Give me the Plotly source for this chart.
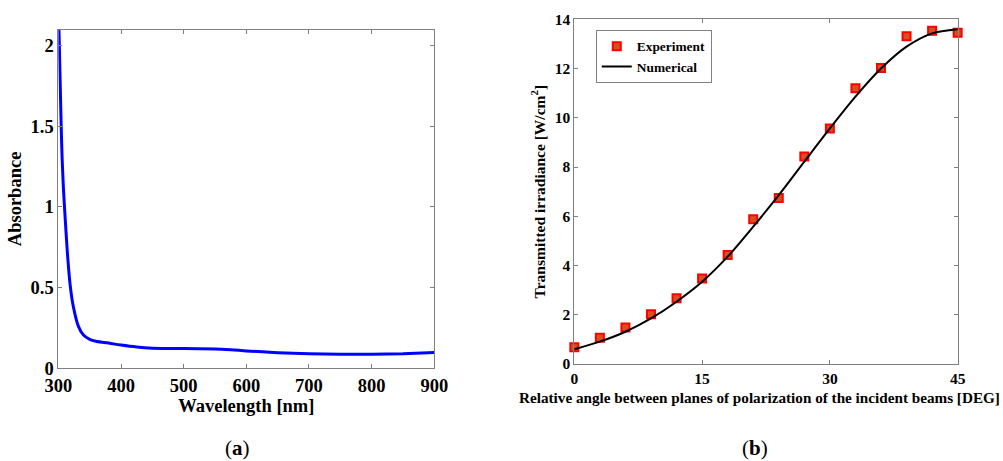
import plotly.graph_objects as go

# Panel (a): absorbance spectrum
wavelength = [300, 301, 303, 304.5, 306, 308, 311, 314.5, 319, 324, 332, 340, 350, 360,
              370, 378, 390, 400, 425, 450, 500, 550, 575, 600, 650, 700, 750, 800, 850, 900]
absorbance = [2.3, 2.09, 1.75, 1.5, 1.3, 1.12, 0.92, 0.71, 0.51, 0.38, 0.26, 0.206, 0.18, 0.168,
              0.162, 0.158, 0.15, 0.144, 0.132, 0.125, 0.123, 0.12, 0.115, 0.108, 0.097, 0.09,
              0.087, 0.087, 0.09, 0.098]

# Panel (b): transmitted irradiance vs angle
exp_angle = [0, 3, 6, 9, 12, 15, 18, 21, 24, 27, 30, 33, 36, 39, 42, 45]
exp_irr = [0.68, 1.07, 1.48, 2.02, 2.67, 3.47, 4.43, 5.88, 6.74, 8.43, 9.57, 11.2, 12.02,
           13.31, 13.54, 13.46]
num_angle = [0, 3, 6, 9, 12, 15, 18, 21, 24, 27, 30, 33, 36, 39, 42, 45]
num_irr = [0.6, 0.91, 1.31, 1.85, 2.53, 3.34, 4.36, 5.58, 6.86, 8.22, 9.57, 10.86, 12.0,
           12.89, 13.43, 13.6]

SERIF = "Liberation Serif"
AX = "#808080"

fig = go.Figure()

fig.add_trace(go.Scatter(
    x=wavelength, y=absorbance, mode="lines",
    line=dict(color="#0000ff", width=3, shape="spline", smoothing=0.5),
    xaxis="x", yaxis="y", showlegend=False))

fig.add_trace(go.Scatter(
    x=exp_angle, y=exp_irr, mode="markers", name="Experiment",
    marker=dict(symbol="square", size=8, color="#d4501c", line=dict(color="#ff0000", width=2)),
    xaxis="x2", yaxis="y2", cliponaxis=False))

fig.add_trace(go.Scatter(
    x=num_angle, y=num_irr, mode="lines", name="Numerical",
    line=dict(color="#000000", width=2, shape="spline", smoothing=0.8),
    xaxis="x2", yaxis="y2"))

common = dict(showgrid=False, zeroline=False, showline=True, linecolor=AX, linewidth=1,
              mirror="ticks", ticks="inside", ticklen=4, tickcolor=AX, tickwidth=1,
              automargin=False)

LF = 18.5   # left panel font size
RT = 15.5   # right panel tick font size

fig.update_layout(
    template="none",
    width=1003, height=461,
    margin=dict(l=0, r=0, t=0, b=0, pad=0),
    paper_bgcolor="white", plot_bgcolor="white",
    font=dict(family=SERIF, color="black"),
    xaxis=dict(domain=[0.0582, 0.433], range=[300, 900], tickvals=[300, 400, 500, 600, 700, 800, 900],
               tickfont=dict(size=LF, weight="bold", family=SERIF),
               title=dict(text="Wavelength [nm]", font=dict(size=LF, weight="bold", family=SERIF), standoff=1),
               anchor="y", **common),
    yaxis=dict(domain=[0.201, 0.936], range=[0, 2.1], tickvals=[0, 0.5, 1, 1.5, 2],
               tickfont=dict(size=LF, weight="bold", family=SERIF),
               title=dict(text="Absorbance", font=dict(size=LF, weight="bold", family=SERIF), standoff=4),
               anchor="x", **common),
    xaxis2=dict(domain=[0.5726, 0.9548], range=[0, 45], tickvals=[0, 15, 30, 45],
                tickfont=dict(size=RT, weight="bold", family=SERIF),
                anchor="y2", **common),
    yaxis2=dict(domain=[0.2104, 0.958], range=[0, 14], tickvals=[0, 2, 4, 6, 8, 10, 12, 14],
                tickfont=dict(size=RT, weight="bold", family=SERIF),
                title=dict(text="Transmitted irradiance [W/cm<sup>2</sup>]",
                           font=dict(size=15.5, weight="bold", family=SERIF), standoff=5),
                anchor="x2", **common),
    legend=dict(x=0.594, y=0.935, xanchor="left", yanchor="top",
                bordercolor=AX, borderwidth=1, bgcolor="white",
                font=dict(size=13.4, weight="bold", family=SERIF),
                itemwidth=30, tracegroupgap=0),
    annotations=[
        dict(text="Relative angle between planes of polarization of the incident beams [DEG]",
             x=759 / 1003, y=1 - 397 / 461, xref="paper", yref="paper",
             xanchor="center", yanchor="middle", showarrow=False,
             font=dict(size=15.2, weight="bold", family=SERIF, color="black")),
        dict(text="(<b>a</b>)", x=237 / 1003, y=1 - 448 / 461, xref="paper", yref="paper",
             xanchor="center", yanchor="middle",
             showarrow=False, font=dict(size=21, family=SERIF, color="black")),
        dict(text="(<b>b</b>)", x=755 / 1003, y=1 - 448 / 461, xref="paper", yref="paper",
             xanchor="center", yanchor="middle",
             showarrow=False, font=dict(size=21, family=SERIF, color="black")),
    ],
)

fig.write_html("out.html")
